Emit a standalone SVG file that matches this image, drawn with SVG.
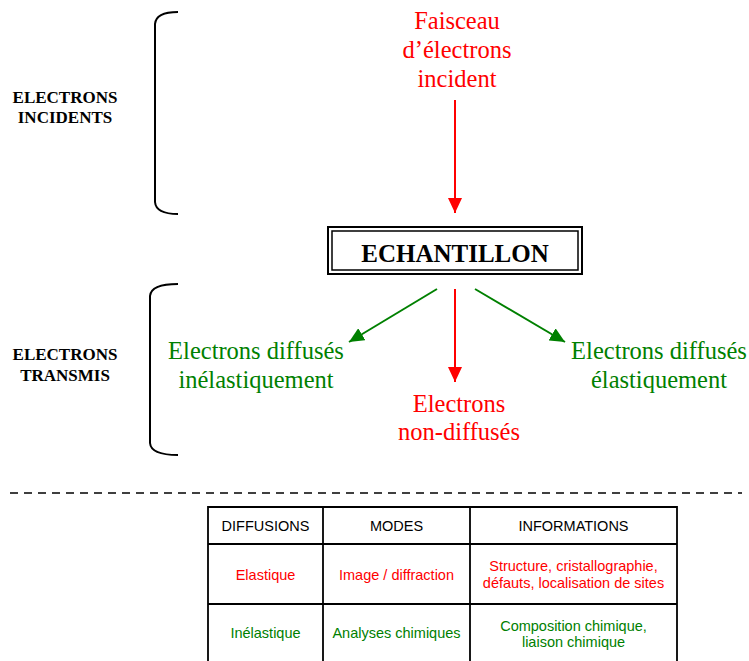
<svg xmlns="http://www.w3.org/2000/svg" width="749" height="661" viewBox="0 0 749 661">
<defs>
<marker id="ahR" markerUnits="userSpaceOnUse" markerWidth="15" markerHeight="14" refX="15" refY="7" orient="auto" viewBox="0 0 15 14"><path d="M0,0 L15,7 L0,14 z" fill="#ff0000"/></marker>
<marker id="ahG" markerUnits="userSpaceOnUse" markerWidth="15" markerHeight="14" refX="15" refY="7" orient="auto" viewBox="0 0 15 14"><path d="M0,0 L15,7 L0,14 z" fill="#008000"/></marker>
</defs>
<style>
.t{font-family:"Liberation Serif","Times New Roman",serif;font-size:24.5px;text-anchor:middle}
.lab{font-family:"Liberation Serif","Times New Roman",serif;font-size:17px;font-weight:bold;text-anchor:middle;fill:#000}
.tb{font-family:"Liberation Sans",Arial,sans-serif;font-size:14.5px;text-anchor:middle}
.red{fill:#ff0000}
.green{fill:#008000}
.br{fill:none;stroke:#000;stroke-width:2}
.grid{stroke:#000;stroke-width:1.8;fill:none}
</style>
<rect width="749" height="661" fill="#fff"/>

<g id="bracket-incidents">
<path class="br" d="M178,12 Q156,12 155,24 L155,202 Q156,214 178,214"/>
<text class="lab" x="65" y="103">ELECTRONS</text>
<text class="lab" x="65" y="123">INCIDENTS</text>
</g>

<g id="bracket-transmis">
<path class="br" d="M178,284 Q151,284 150,296 L150,443 Q151,455 178,455"/>
<text class="lab" x="65" y="360">ELECTRONS</text>
<text class="lab" x="65" y="381">TRANSMIS</text>
</g>

<g id="faisceau">
<text class="t red" x="457" y="29">Faisceau</text>
<text class="t red" x="457" y="58">d’électrons</text>
<text class="t red" x="457" y="87">incident</text>
</g>

<g id="echantillon">
<rect x="328" y="227" width="254" height="47" fill="#fff" stroke="#000" stroke-width="2"/>
<rect x="332" y="231" width="246" height="39" fill="none" stroke="#000" stroke-width="1.5"/>
<text x="455" y="262" font-family="'Liberation Serif','Times New Roman',serif" font-size="25" font-weight="bold" text-anchor="middle" fill="#000">ECHANTILLON</text>
</g>

<g id="inelastique">
<text class="t green" x="256" y="359">Electrons diffusés</text>
<text class="t green" x="256" y="388">inélastiquement</text>
</g>

<g id="non-diffuses">
<text class="t red" x="459" y="412">Electrons</text>
<text class="t red" x="459" y="440">non-diffusés</text>
</g>

<g id="elastique">
<text class="t green" x="659" y="359">Electrons diffusés</text>
<text class="t green" x="659" y="388">élastiquement</text>
</g>

<g id="connectors">
<line x1="455" y1="100" x2="455" y2="213" stroke="#ff0000" stroke-width="2" marker-end="url(#ahR)"/>
<line x1="437" y1="289" x2="349" y2="342" stroke="#008000" stroke-width="2" marker-end="url(#ahG)"/>
<line x1="455" y1="289" x2="455" y2="382" stroke="#ff0000" stroke-width="2" marker-end="url(#ahR)"/>
<line x1="475" y1="289" x2="565" y2="342" stroke="#008000" stroke-width="2" marker-end="url(#ahG)"/>
</g>

<line x1="10" y1="493" x2="742" y2="493" stroke="#000" stroke-width="1.5" stroke-dasharray="8,6"/>

<g id="table">
<path class="grid" d="M208,661 L208,507 L677,507 L677,661 M323,507 L323,661 M470,507 L470,661 M208,544 L677,544 M208,604 L677,604"/>
<text class="tb" x="265.5" y="531" fill="#000">DIFFUSIONS</text>
<text class="tb" x="396.5" y="531" fill="#000">MODES</text>
<text class="tb" x="573.5" y="531" fill="#000">INFORMATIONS</text>
<text class="tb red" x="265.5" y="580">Elastique</text>
<text class="tb red" x="396.5" y="580">Image / diffraction</text>
<text class="tb red" x="573.5" y="571">Structure, cristallographie,</text>
<text class="tb red" x="573.5" y="588">défauts, localisation de sites</text>
<text class="tb green" x="265.5" y="638">Inélastique</text>
<text class="tb green" x="396.5" y="638">Analyses chimiques</text>
<text class="tb green" x="573.5" y="631">Composition chimique,</text>
<text class="tb green" x="573.5" y="647">liaison chimique</text>
</g>
</svg>
